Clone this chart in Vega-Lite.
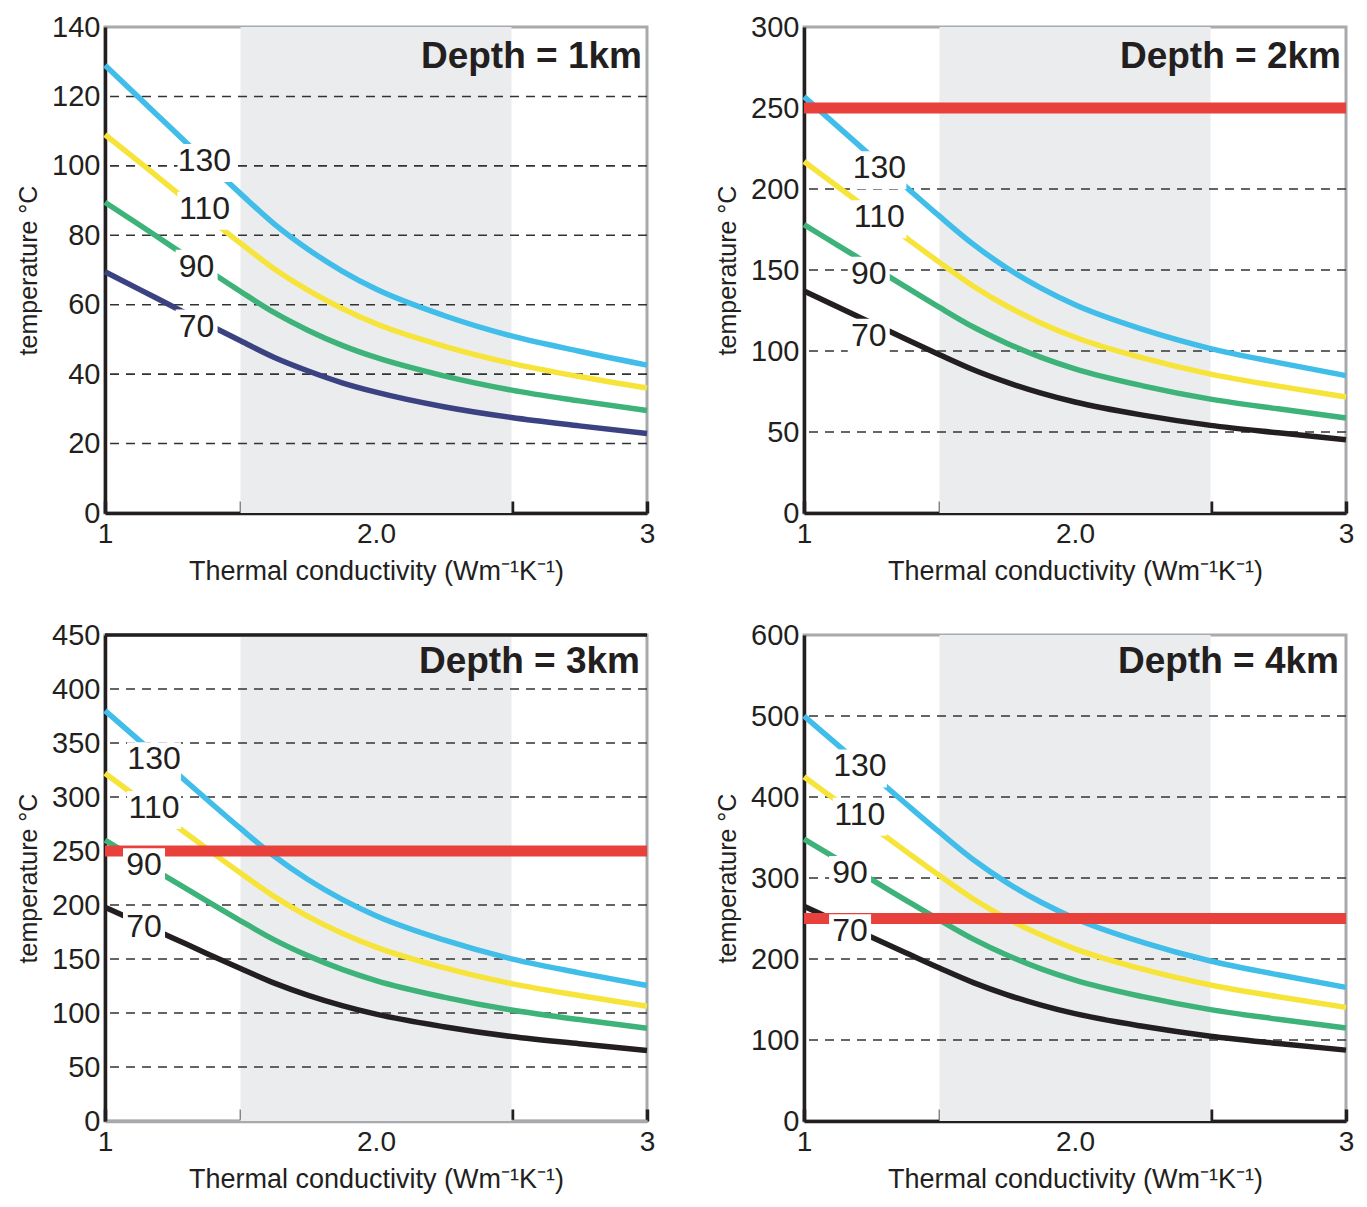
{
  "$schema": "https://vega.github.io/schema/vega-lite/v6.json",
  "padding": {"left": 15, "top": 11, "right": 5, "bottom": 5},
  "bounds": "flush",
  "columns": 2,
  "spacing": {"row": 122, "column": 157},
  "resolve": {"scale": {"color": "independent", "x": "independent", "y": "independent"}},
  "datasets": {
    "band": [{"lo": 1.5, "hi": 2.5}],
    "titles": [
      {"d": 1, "label": "Depth = 1km"},
      {"d": 2, "label": "Depth = 2km"},
      {"d": 3, "label": "Depth = 3km"},
      {"d": 4, "label": "Depth = 4km"}
    ],
    "limit": [{"d": 2, "T": 250}, {"d": 3, "T": 250}, {"d": 4, "T": 250}],
    "grid": [
      {"d": 1, "T": 20}, {"d": 1, "T": 40}, {"d": 1, "T": 60}, {"d": 1, "T": 80}, {"d": 1, "T": 100}, {"d": 1, "T": 120},
      {"d": 2, "T": 50}, {"d": 2, "T": 100}, {"d": 2, "T": 150}, {"d": 2, "T": 200}, {"d": 2, "T": 250},
      {"d": 3, "T": 50}, {"d": 3, "T": 100}, {"d": 3, "T": 150}, {"d": 3, "T": 200}, {"d": 3, "T": 250}, {"d": 3, "T": 300}, {"d": 3, "T": 350}, {"d": 3, "T": 400},
      {"d": 4, "T": 100}, {"d": 4, "T": 200}, {"d": 4, "T": 300}, {"d": 4, "T": 400}, {"d": 4, "T": 500}
    ],
    "labels": [
      {"d": 1, "q": 130, "k": 1.367, "T": 101.7}, {"d": 1, "q": 110, "k": 1.367, "T": 87.9}, {"d": 1, "q": 90, "k": 1.338, "T": 71.2}, {"d": 1, "q": 70, "k": 1.338, "T": 54},
      {"d": 2, "q": 130, "k": 1.278, "T": 213.5}, {"d": 2, "q": 110, "k": 1.278, "T": 183.2}, {"d": 2, "q": 90, "k": 1.239, "T": 148.3}, {"d": 2, "q": 70, "k": 1.239, "T": 110.1},
      {"d": 3, "q": 130, "k": 1.181, "T": 335.8}, {"d": 3, "q": 110, "k": 1.181, "T": 290.7}, {"d": 3, "q": 90, "k": 1.144, "T": 237.7}, {"d": 3, "q": 70, "k": 1.144, "T": 180.4},
      {"d": 4, "q": 130, "k": 1.206, "T": 439}, {"d": 4, "q": 110, "k": 1.206, "T": 379.4}, {"d": 4, "q": 90, "k": 1.17, "T": 307.5}, {"d": 4, "q": 70, "k": 1.17, "T": 235.6}
    ],
    "curves": [
      {"d":1,"q":130,"k":1,"T":129},{"d":1,"q":130,"k":1.125,"T":119.7},{"d":1,"q":130,"k":1.25,"T":110.4},{"d":1,"q":130,"k":1.375,"T":101.1},{"d":1,"q":130,"k":1.5,"T":92},{"d":1,"q":130,"k":1.625,"T":83.2},{"d":1,"q":130,"k":1.75,"T":75.9},{"d":1,"q":130,"k":1.875,"T":69.7},{"d":1,"q":130,"k":2,"T":64.5},{"d":1,"q":130,"k":2.25,"T":56.9},{"d":1,"q":130,"k":2.5,"T":51},{"d":1,"q":130,"k":2.75,"T":46.6},{"d":1,"q":130,"k":3,"T":42.6},
      {"d":1,"q":110,"k":1,"T":109},{"d":1,"q":110,"k":1.125,"T":101.2},{"d":1,"q":110,"k":1.25,"T":93.3},{"d":1,"q":110,"k":1.375,"T":85.5},{"d":1,"q":110,"k":1.5,"T":77.7},{"d":1,"q":110,"k":1.625,"T":70.3},{"d":1,"q":110,"k":1.75,"T":64.1},{"d":1,"q":110,"k":1.875,"T":58.9},{"d":1,"q":110,"k":2,"T":54.5},{"d":1,"q":110,"k":2.25,"T":48.1},{"d":1,"q":110,"k":2.5,"T":43.1},{"d":1,"q":110,"k":2.75,"T":39.3},{"d":1,"q":110,"k":3,"T":36},
      {"d":1,"q":90,"k":1,"T":89.5},{"d":1,"q":90,"k":1.125,"T":83.1},{"d":1,"q":90,"k":1.25,"T":76.6},{"d":1,"q":90,"k":1.375,"T":70.2},{"d":1,"q":90,"k":1.5,"T":63.8},{"d":1,"q":90,"k":1.625,"T":57.7},{"d":1,"q":90,"k":1.75,"T":52.6},{"d":1,"q":90,"k":1.875,"T":48.3},{"d":1,"q":90,"k":2,"T":44.8},{"d":1,"q":90,"k":2.25,"T":39.5},{"d":1,"q":90,"k":2.5,"T":35.4},{"d":1,"q":90,"k":2.75,"T":32.3},{"d":1,"q":90,"k":3,"T":29.5},
      {"d":1,"q":70,"k":1,"T":69.5},{"d":1,"q":70,"k":1.125,"T":64.5},{"d":1,"q":70,"k":1.25,"T":59.5},{"d":1,"q":70,"k":1.375,"T":54.5},{"d":1,"q":70,"k":1.5,"T":49.6},{"d":1,"q":70,"k":1.625,"T":44.8},{"d":1,"q":70,"k":1.75,"T":40.9},{"d":1,"q":70,"k":1.875,"T":37.5},{"d":1,"q":70,"k":2,"T":34.8},{"d":1,"q":70,"k":2.25,"T":30.6},{"d":1,"q":70,"k":2.5,"T":27.5},{"d":1,"q":70,"k":2.75,"T":25.1},{"d":1,"q":70,"k":3,"T":22.9},
      {"d":2,"q":130,"k":1,"T":257},{"d":2,"q":130,"k":1.125,"T":238.5},{"d":2,"q":130,"k":1.25,"T":220},{"d":2,"q":130,"k":1.375,"T":201.5},{"d":2,"q":130,"k":1.5,"T":183.2},{"d":2,"q":130,"k":1.625,"T":165.8},{"d":2,"q":130,"k":1.75,"T":151.1},{"d":2,"q":130,"k":1.875,"T":138.8},{"d":2,"q":130,"k":2,"T":128.5},{"d":2,"q":130,"k":2.25,"T":113.3},{"d":2,"q":130,"k":2.5,"T":101.5},{"d":2,"q":130,"k":2.75,"T":92.8},{"d":2,"q":130,"k":3,"T":84.8},
      {"d":2,"q":110,"k":1,"T":217},{"d":2,"q":110,"k":1.125,"T":201.4},{"d":2,"q":110,"k":1.25,"T":185.8},{"d":2,"q":110,"k":1.375,"T":170.1},{"d":2,"q":110,"k":1.5,"T":154.7},{"d":2,"q":110,"k":1.625,"T":140},{"d":2,"q":110,"k":1.75,"T":127.6},{"d":2,"q":110,"k":1.875,"T":117.2},{"d":2,"q":110,"k":2,"T":108.5},{"d":2,"q":110,"k":2.25,"T":95.7},{"d":2,"q":110,"k":2.5,"T":85.7},{"d":2,"q":110,"k":2.75,"T":78.3},{"d":2,"q":110,"k":3,"T":71.6},
      {"d":2,"q":90,"k":1,"T":178},{"d":2,"q":90,"k":1.125,"T":165.2},{"d":2,"q":90,"k":1.25,"T":152.4},{"d":2,"q":90,"k":1.375,"T":139.6},{"d":2,"q":90,"k":1.5,"T":126.9},{"d":2,"q":90,"k":1.625,"T":114.8},{"d":2,"q":90,"k":1.75,"T":104.7},{"d":2,"q":90,"k":1.875,"T":96.1},{"d":2,"q":90,"k":2,"T":89},{"d":2,"q":90,"k":2.25,"T":78.5},{"d":2,"q":90,"k":2.5,"T":70.3},{"d":2,"q":90,"k":2.75,"T":64.3},{"d":2,"q":90,"k":3,"T":58.7},
      {"d":2,"q":70,"k":1,"T":137},{"d":2,"q":70,"k":1.125,"T":127.1},{"d":2,"q":70,"k":1.25,"T":117.3},{"d":2,"q":70,"k":1.375,"T":107.4},{"d":2,"q":70,"k":1.5,"T":97.7},{"d":2,"q":70,"k":1.625,"T":88.4},{"d":2,"q":70,"k":1.75,"T":80.6},{"d":2,"q":70,"k":1.875,"T":74},{"d":2,"q":70,"k":2,"T":68.5},{"d":2,"q":70,"k":2.25,"T":60.4},{"d":2,"q":70,"k":2.5,"T":54.1},{"d":2,"q":70,"k":2.75,"T":49.5},{"d":2,"q":70,"k":3,"T":45.2},
      {"d":3,"q":130,"k":1,"T":380},{"d":3,"q":130,"k":1.125,"T":352.6},{"d":3,"q":130,"k":1.25,"T":325.3},{"d":3,"q":130,"k":1.375,"T":297.9},{"d":3,"q":130,"k":1.5,"T":270.9},{"d":3,"q":130,"k":1.625,"T":245.1},{"d":3,"q":130,"k":1.75,"T":223.4},{"d":3,"q":130,"k":1.875,"T":205.2},{"d":3,"q":130,"k":2,"T":190},{"d":3,"q":130,"k":2.25,"T":167.6},{"d":3,"q":130,"k":2.5,"T":150.1},{"d":3,"q":130,"k":2.75,"T":137.2},{"d":3,"q":130,"k":3,"T":125.4},
      {"d":3,"q":110,"k":1,"T":322},{"d":3,"q":110,"k":1.125,"T":298.8},{"d":3,"q":110,"k":1.25,"T":275.6},{"d":3,"q":110,"k":1.375,"T":252.4},{"d":3,"q":110,"k":1.5,"T":229.6},{"d":3,"q":110,"k":1.625,"T":207.7},{"d":3,"q":110,"k":1.75,"T":189.3},{"d":3,"q":110,"k":1.875,"T":173.9},{"d":3,"q":110,"k":2,"T":161},{"d":3,"q":110,"k":2.25,"T":142},{"d":3,"q":110,"k":2.5,"T":127.2},{"d":3,"q":110,"k":2.75,"T":116.2},{"d":3,"q":110,"k":3,"T":106.3},
      {"d":3,"q":90,"k":1,"T":260},{"d":3,"q":90,"k":1.125,"T":241.3},{"d":3,"q":90,"k":1.25,"T":222.6},{"d":3,"q":90,"k":1.375,"T":203.8},{"d":3,"q":90,"k":1.5,"T":185.4},{"d":3,"q":90,"k":1.625,"T":167.7},{"d":3,"q":90,"k":1.75,"T":152.9},{"d":3,"q":90,"k":1.875,"T":140.4},{"d":3,"q":90,"k":2,"T":130},{"d":3,"q":90,"k":2.25,"T":114.7},{"d":3,"q":90,"k":2.5,"T":102.7},{"d":3,"q":90,"k":2.75,"T":93.9},{"d":3,"q":90,"k":3,"T":85.8},
      {"d":3,"q":70,"k":1,"T":198},{"d":3,"q":70,"k":1.125,"T":183.7},{"d":3,"q":70,"k":1.25,"T":169.5},{"d":3,"q":70,"k":1.375,"T":155.2},{"d":3,"q":70,"k":1.5,"T":141.2},{"d":3,"q":70,"k":1.625,"T":127.7},{"d":3,"q":70,"k":1.75,"T":116.4},{"d":3,"q":70,"k":1.875,"T":106.9},{"d":3,"q":70,"k":2,"T":99},{"d":3,"q":70,"k":2.25,"T":87.3},{"d":3,"q":70,"k":2.5,"T":78.2},{"d":3,"q":70,"k":2.75,"T":71.5},{"d":3,"q":70,"k":3,"T":65.3},
      {"d":4,"q":130,"k":1,"T":500},{"d":4,"q":130,"k":1.125,"T":464},{"d":4,"q":130,"k":1.25,"T":428},{"d":4,"q":130,"k":1.375,"T":392},{"d":4,"q":130,"k":1.5,"T":356.5},{"d":4,"q":130,"k":1.625,"T":322.5},{"d":4,"q":130,"k":1.75,"T":294},{"d":4,"q":130,"k":1.875,"T":270},{"d":4,"q":130,"k":2,"T":250},{"d":4,"q":130,"k":2.25,"T":220.5},{"d":4,"q":130,"k":2.5,"T":197.5},{"d":4,"q":130,"k":2.75,"T":180.5},{"d":4,"q":130,"k":3,"T":165},
      {"d":4,"q":110,"k":1,"T":425},{"d":4,"q":110,"k":1.125,"T":394.4},{"d":4,"q":110,"k":1.25,"T":363.8},{"d":4,"q":110,"k":1.375,"T":333.2},{"d":4,"q":110,"k":1.5,"T":303},{"d":4,"q":110,"k":1.625,"T":274.1},{"d":4,"q":110,"k":1.75,"T":249.9},{"d":4,"q":110,"k":1.875,"T":229.5},{"d":4,"q":110,"k":2,"T":212.5},{"d":4,"q":110,"k":2.25,"T":187.4},{"d":4,"q":110,"k":2.5,"T":167.9},{"d":4,"q":110,"k":2.75,"T":153.4},{"d":4,"q":110,"k":3,"T":140.3},
      {"d":4,"q":90,"k":1,"T":348},{"d":4,"q":90,"k":1.125,"T":322.9},{"d":4,"q":90,"k":1.25,"T":297.9},{"d":4,"q":90,"k":1.375,"T":272.8},{"d":4,"q":90,"k":1.5,"T":248.1},{"d":4,"q":90,"k":1.625,"T":224.5},{"d":4,"q":90,"k":1.75,"T":204.6},{"d":4,"q":90,"k":1.875,"T":187.9},{"d":4,"q":90,"k":2,"T":174},{"d":4,"q":90,"k":2.25,"T":153.5},{"d":4,"q":90,"k":2.5,"T":137.5},{"d":4,"q":90,"k":2.75,"T":125.6},{"d":4,"q":90,"k":3,"T":114.8},
      {"d":4,"q":70,"k":1,"T":265},{"d":4,"q":70,"k":1.125,"T":245.9},{"d":4,"q":70,"k":1.25,"T":226.8},{"d":4,"q":70,"k":1.375,"T":207.8},{"d":4,"q":70,"k":1.5,"T":188.9},{"d":4,"q":70,"k":1.625,"T":170.9},{"d":4,"q":70,"k":1.75,"T":155.8},{"d":4,"q":70,"k":1.875,"T":143.1},{"d":4,"q":70,"k":2,"T":132.5},{"d":4,"q":70,"k":2.25,"T":116.9},{"d":4,"q":70,"k":2.5,"T":104.7},{"d":4,"q":70,"k":2.75,"T":95.7},{"d":4,"q":70,"k":3,"T":87.5}
    ]
  },
  "concat": [
    {
      "width": 542, "height": 486,
      "layer": [
        {"data": {"name": "band"}, "mark": {"type": "rect", "color": "#ebecee"},
         "encoding": {"x": {"field": "lo", "type": "quantitative", "scale": {"domain": [1, 3], "nice": false, "zero": false}, "axis": {"title": "Thermal conductivity (Wm⁻¹K⁻¹)", "values": [1, 1.5, 2, 2.5, 3]}}, "x2": {"field": "hi"}}},
        {"data": {"name": "grid"}, "transform": [{"filter": "datum.d == 1"}], "mark": {"type": "rule", "color": "#333333", "strokeWidth": 1.6, "strokeDash": [9, 7]},
         "encoding": {"y": {"field": "T", "type": "quantitative", "scale": {"domain": [0, 140], "nice": false}, "axis": {"title": "temperature °C", "values": [0, 20, 40, 60, 80, 100, 120, 140]}}}},
        {"data": {"name": "curves"}, "transform": [{"filter": "datum.d == 1"}], "mark": {"type": "line", "strokeWidth": 5.5, "interpolate": "monotone"},
         "encoding": {"x": {"field": "k", "type": "quantitative"}, "y": {"field": "T", "type": "quantitative"}, "color": {"field": "q", "type": "nominal", "legend": null, "scale": {"domain": [130, 110, 90, 70], "range": ["#41bde9", "#f7e43b", "#3db37a", "#3b4282"]}}}},
        {"data": {"name": "labels"}, "transform": [{"filter": "datum.d == 1 && datum.q > 100"}], "mark": {"type": "rect", "width": 54, "height": 38, "color": "white", "yOffset": 3},
         "encoding": {"x": {"field": "k", "type": "quantitative"}, "y": {"field": "T", "type": "quantitative"}}},
        {"data": {"name": "labels"}, "transform": [{"filter": "datum.d == 1 && datum.q < 100"}], "mark": {"type": "rect", "width": 42, "height": 38, "color": "white", "yOffset": 3},
         "encoding": {"x": {"field": "k", "type": "quantitative"}, "y": {"field": "T", "type": "quantitative"}}},
        {"data": {"name": "labels"}, "transform": [{"filter": "datum.d == 1"}], "mark": {"type": "text", "fontSize": 32, "color": "#231f20", "baseline": "middle", "dy": 1},
         "encoding": {"x": {"field": "k", "type": "quantitative"}, "y": {"field": "T", "type": "quantitative"}, "text": {"field": "q"}}},
        {"data": {"name": "titles"}, "transform": [{"filter": "datum.d == 1"}], "mark": {"type": "text", "align": "right", "baseline": "alphabetic", "fontSize": 37, "fontWeight": "bold", "dx": -5, "dy": 41, "color": "#231f20"},
         "encoding": {"x": {"datum": 3}, "y": {"datum": 140}, "text": {"field": "label"}}}
      ]
    },
    {
      "width": 542, "height": 486,
      "layer": [
        {"data": {"name": "band"}, "mark": {"type": "rect", "color": "#ebecee"},
         "encoding": {"x": {"field": "lo", "type": "quantitative", "scale": {"domain": [1, 3], "nice": false, "zero": false}, "axis": {"title": "Thermal conductivity (Wm⁻¹K⁻¹)", "values": [1, 1.5, 2, 2.5, 3]}}, "x2": {"field": "hi"}}},
        {"data": {"name": "grid"}, "transform": [{"filter": "datum.d == 2"}], "mark": {"type": "rule", "color": "#333333", "strokeWidth": 1.6, "strokeDash": [9, 7]},
         "encoding": {"y": {"field": "T", "type": "quantitative", "scale": {"domain": [0, 300], "nice": false}, "axis": {"title": "temperature °C", "values": [0, 50, 100, 150, 200, 250, 300]}}}},
        {"data": {"name": "curves"}, "transform": [{"filter": "datum.d == 2"}], "mark": {"type": "line", "strokeWidth": 5.5, "interpolate": "monotone"},
         "encoding": {"x": {"field": "k", "type": "quantitative"}, "y": {"field": "T", "type": "quantitative"}, "color": {"field": "q", "type": "nominal", "legend": null, "scale": {"domain": [130, 110, 90, 70], "range": ["#41bde9", "#f7e43b", "#3db37a", "#231f20"]}}}},
        {"data": {"name": "limit"}, "transform": [{"filter": "datum.d == 2"}], "mark": {"type": "rule", "color": "#e8413c", "strokeWidth": 11},
         "encoding": {"y": {"field": "T", "type": "quantitative"}}},
        {"data": {"name": "labels"}, "transform": [{"filter": "datum.d == 2 && datum.q > 100"}], "mark": {"type": "rect", "width": 54, "height": 38, "color": "white", "yOffset": 3},
         "encoding": {"x": {"field": "k", "type": "quantitative"}, "y": {"field": "T", "type": "quantitative"}}},
        {"data": {"name": "labels"}, "transform": [{"filter": "datum.d == 2 && datum.q < 100"}], "mark": {"type": "rect", "width": 42, "height": 38, "color": "white", "yOffset": 3},
         "encoding": {"x": {"field": "k", "type": "quantitative"}, "y": {"field": "T", "type": "quantitative"}}},
        {"data": {"name": "labels"}, "transform": [{"filter": "datum.d == 2"}], "mark": {"type": "text", "fontSize": 32, "color": "#231f20", "baseline": "middle", "dy": 1},
         "encoding": {"x": {"field": "k", "type": "quantitative"}, "y": {"field": "T", "type": "quantitative"}, "text": {"field": "q"}}},
        {"data": {"name": "titles"}, "transform": [{"filter": "datum.d == 2"}], "mark": {"type": "text", "align": "right", "baseline": "alphabetic", "fontSize": 37, "fontWeight": "bold", "dx": -5, "dy": 41, "color": "#231f20"},
         "encoding": {"x": {"datum": 3}, "y": {"datum": 300}, "text": {"field": "label"}}}
      ]
    },
    {
      "width": 542, "height": 486,
      "layer": [
        {"data": {"name": "band"}, "mark": {"type": "rect", "color": "#ebecee"},
         "encoding": {"x": {"field": "lo", "type": "quantitative", "scale": {"domain": [1, 3], "nice": false, "zero": false}, "axis": {"title": "Thermal conductivity (Wm⁻¹K⁻¹)", "values": [1, 1.5, 2, 2.5, 3], "domainColor": "#a7a9ac"}}, "x2": {"field": "hi"}}},
        {"data": {"name": "grid"}, "transform": [{"filter": "datum.d == 3"}], "mark": {"type": "rule", "color": "#333333", "strokeWidth": 1.6, "strokeDash": [9, 7]},
         "encoding": {"y": {"field": "T", "type": "quantitative", "scale": {"domain": [0, 450], "nice": false}, "axis": {"title": "temperature °C", "values": [0, 50, 100, 150, 200, 250, 300, 350, 400, 450]}}}},
        {"data": {"name": "curves"}, "transform": [{"filter": "datum.d == 3"}], "mark": {"type": "line", "strokeWidth": 5.5, "interpolate": "monotone"},
         "encoding": {"x": {"field": "k", "type": "quantitative"}, "y": {"field": "T", "type": "quantitative"}, "color": {"field": "q", "type": "nominal", "legend": null, "scale": {"domain": [130, 110, 90, 70], "range": ["#41bde9", "#f7e43b", "#3db37a", "#231f20"]}}}},
        {"data": {"name": "limit"}, "transform": [{"filter": "datum.d == 3"}], "mark": {"type": "rule", "color": "#e8413c", "strokeWidth": 11},
         "encoding": {"y": {"field": "T", "type": "quantitative"}}},
        {"data": {"name": "titles"}, "transform": [{"filter": "datum.d == 3"}], "mark": {"type": "rule", "color": "#231f20", "strokeWidth": 3.5},
         "encoding": {"y": {"datum": 450}}},
        {"data": {"name": "labels"}, "transform": [{"filter": "datum.d == 3 && datum.q > 100"}], "mark": {"type": "rect", "width": 54, "height": 38, "color": "white", "yOffset": 3},
         "encoding": {"x": {"field": "k", "type": "quantitative"}, "y": {"field": "T", "type": "quantitative"}}},
        {"data": {"name": "labels"}, "transform": [{"filter": "datum.d == 3 && datum.q < 100"}], "mark": {"type": "rect", "width": 42, "height": 38, "color": "white", "yOffset": 3},
         "encoding": {"x": {"field": "k", "type": "quantitative"}, "y": {"field": "T", "type": "quantitative"}}},
        {"data": {"name": "labels"}, "transform": [{"filter": "datum.d == 3"}], "mark": {"type": "text", "fontSize": 32, "color": "#231f20", "baseline": "middle", "dy": 1},
         "encoding": {"x": {"field": "k", "type": "quantitative"}, "y": {"field": "T", "type": "quantitative"}, "text": {"field": "q"}}},
        {"data": {"name": "titles"}, "transform": [{"filter": "datum.d == 3"}], "mark": {"type": "text", "align": "right", "baseline": "alphabetic", "fontSize": 37, "fontWeight": "bold", "dx": -7, "dy": 38, "color": "#231f20"},
         "encoding": {"x": {"datum": 3}, "y": {"datum": 450}, "text": {"field": "label"}}}
      ]
    },
    {
      "width": 542, "height": 486,
      "layer": [
        {"data": {"name": "band"}, "mark": {"type": "rect", "color": "#ebecee"},
         "encoding": {"x": {"field": "lo", "type": "quantitative", "scale": {"domain": [1, 3], "nice": false, "zero": false}, "axis": {"title": "Thermal conductivity (Wm⁻¹K⁻¹)", "values": [1, 1.5, 2, 2.5, 3]}}, "x2": {"field": "hi"}}},
        {"data": {"name": "grid"}, "transform": [{"filter": "datum.d == 4"}], "mark": {"type": "rule", "color": "#333333", "strokeWidth": 1.6, "strokeDash": [9, 7]},
         "encoding": {"y": {"field": "T", "type": "quantitative", "scale": {"domain": [0, 600], "nice": false}, "axis": {"title": "temperature °C", "values": [0, 100, 200, 300, 400, 500, 600]}}}},
        {"data": {"name": "curves"}, "transform": [{"filter": "datum.d == 4"}], "mark": {"type": "line", "strokeWidth": 5.5, "interpolate": "monotone"},
         "encoding": {"x": {"field": "k", "type": "quantitative"}, "y": {"field": "T", "type": "quantitative"}, "color": {"field": "q", "type": "nominal", "legend": null, "scale": {"domain": [130, 110, 90, 70], "range": ["#41bde9", "#f7e43b", "#3db37a", "#231f20"]}}}},
        {"data": {"name": "limit"}, "transform": [{"filter": "datum.d == 4"}], "mark": {"type": "rule", "color": "#e8413c", "strokeWidth": 11},
         "encoding": {"y": {"field": "T", "type": "quantitative"}}},
        {"data": {"name": "labels"}, "transform": [{"filter": "datum.d == 4 && datum.q > 100"}], "mark": {"type": "rect", "width": 54, "height": 38, "color": "white", "yOffset": 3},
         "encoding": {"x": {"field": "k", "type": "quantitative"}, "y": {"field": "T", "type": "quantitative"}}},
        {"data": {"name": "labels"}, "transform": [{"filter": "datum.d == 4 && datum.q < 100"}], "mark": {"type": "rect", "width": 42, "height": 38, "color": "white", "yOffset": 3},
         "encoding": {"x": {"field": "k", "type": "quantitative"}, "y": {"field": "T", "type": "quantitative"}}},
        {"data": {"name": "labels"}, "transform": [{"filter": "datum.d == 4"}], "mark": {"type": "text", "fontSize": 32, "color": "#231f20", "baseline": "middle", "dy": 1},
         "encoding": {"x": {"field": "k", "type": "quantitative"}, "y": {"field": "T", "type": "quantitative"}, "text": {"field": "q"}}},
        {"data": {"name": "titles"}, "transform": [{"filter": "datum.d == 4"}], "mark": {"type": "text", "align": "right", "baseline": "alphabetic", "fontSize": 37, "fontWeight": "bold", "dx": -7, "dy": 38, "color": "#231f20"},
         "encoding": {"x": {"datum": 3}, "y": {"datum": 600}, "text": {"field": "label"}}}
      ]
    }
  ],
  "config": {
    "font": "Liberation Sans",
    "view": {"stroke": "#a7a9ac", "strokeWidth": 3},
    "axis": {"domainColor": "#231f20", "domainWidth": 3.5, "labelColor": "#231f20", "titleColor": "#231f20", "titleFontWeight": "normal", "grid": false, "labelFont": "Liberation Sans", "titleFont": "Liberation Sans"},
    "axisY": {"ticks": false, "labelFontSize": 29, "labelPadding": 5, "titleFontSize": 25, "titlePadding": 10},
    "axisX": {"labelFontSize": 28, "titleFontSize": 27, "tickColor": "#231f20", "tickWidth": 3.5, "tickSize": -12, "labelPadding": 19, "titlePadding": 10, "labelFlush": false, "labelExpr": "datum.value == 2 ? '2.0' : datum.value == 1 ? '1' : datum.value == 3 ? '3' : ''"}
  }
}
